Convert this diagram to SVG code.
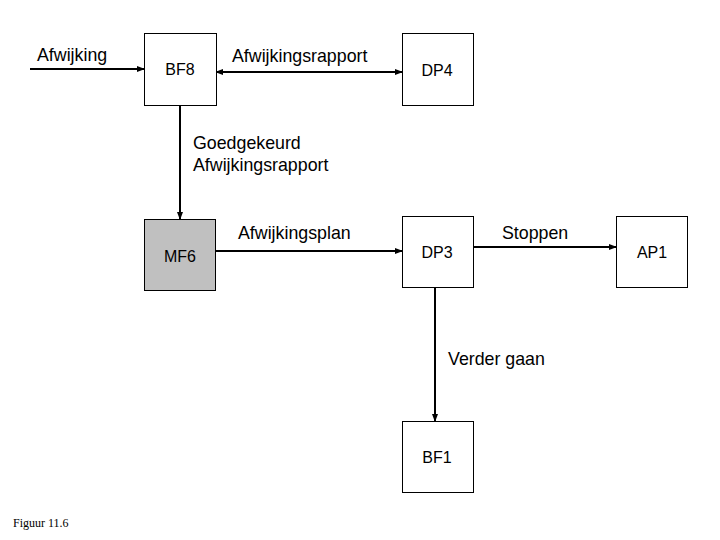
<svg xmlns="http://www.w3.org/2000/svg" width="720" height="540" viewBox="0 0 720 540">
<defs>
<marker id="ah" markerWidth="8" markerHeight="6" refX="7" refY="3" orient="auto" markerUnits="userSpaceOnUse">
<path d="M0,0 L8,3 L0,6 Z" fill="#000"/>
</marker>
<marker id="ahs" markerWidth="8" markerHeight="6" refX="1" refY="3" orient="auto" markerUnits="userSpaceOnUse">
<path d="M8,0 L0,3 L8,6 Z" fill="#000"/>
</marker>
<style>
.box{fill:#fff;stroke:#000;stroke-width:1}
.gray{fill:#c0c0c0}
.bt{font-family:"Liberation Sans",Arial,sans-serif;font-size:16px;text-anchor:middle;fill:#000}
.lt{font-family:"Liberation Sans",Arial,sans-serif;font-size:17.8px;fill:#000}
.ln{stroke:#000;stroke-width:2;fill:none}
</style>
</defs>
<rect width="720" height="540" fill="#fff"/>
<g id="connectors">
<line class="ln" x1="30" y1="69" x2="144" y2="69" marker-end="url(#ah)"/>
<line class="ln" x1="216" y1="72" x2="402" y2="72" marker-start="url(#ahs)" marker-end="url(#ah)"/>
<line class="ln" x1="180" y1="105" x2="180" y2="219" marker-end="url(#ah)"/>
<line class="ln" x1="216" y1="251" x2="402" y2="251" marker-end="url(#ah)"/>
<line class="ln" x1="474" y1="247" x2="616" y2="247" marker-end="url(#ah)"/>
<line class="ln" x1="435" y1="288" x2="435" y2="421" marker-end="url(#ah)"/>
<text class="lt" x="37" y="61">Afwijking</text>
<text class="lt" x="232" y="62">Afwijkingsrapport</text>
<text class="lt" x="193" y="149">Goedgekeurd</text>
<text class="lt" x="193" y="171">Afwijkingsrapport</text>
<text class="lt" x="238" y="239">Afwijkingsplan</text>
<text class="lt" x="502" y="239">Stoppen</text>
<text class="lt" x="448" y="365">Verder gaan</text>
</g>
<g id="BF8"><rect class="box" x="144.5" y="33.5" width="72" height="72"/><text class="bt" x="180" y="75">BF8</text></g>
<g id="DP4"><rect class="box" x="402.5" y="33.5" width="71" height="72"/><text class="bt" x="437" y="76">DP4</text></g>
<g id="MF6"><rect class="box gray" x="144.5" y="219.5" width="71" height="71"/><text class="bt" x="180" y="262">MF6</text></g>
<g id="DP3"><rect class="box" x="402.5" y="216.5" width="71" height="71"/><text class="bt" x="437" y="258">DP3</text></g>
<g id="AP1"><rect class="box" x="616.5" y="216.5" width="71" height="71"/><text class="bt" x="652" y="258">AP1</text></g>
<g id="BF1"><rect class="box" x="402.5" y="421.5" width="71" height="71"/><text class="bt" x="437" y="463">BF1</text></g>
<text x="13" y="527" font-family="'Liberation Serif','Times New Roman',serif" font-size="12">Figuur 11.6</text>
</svg>
